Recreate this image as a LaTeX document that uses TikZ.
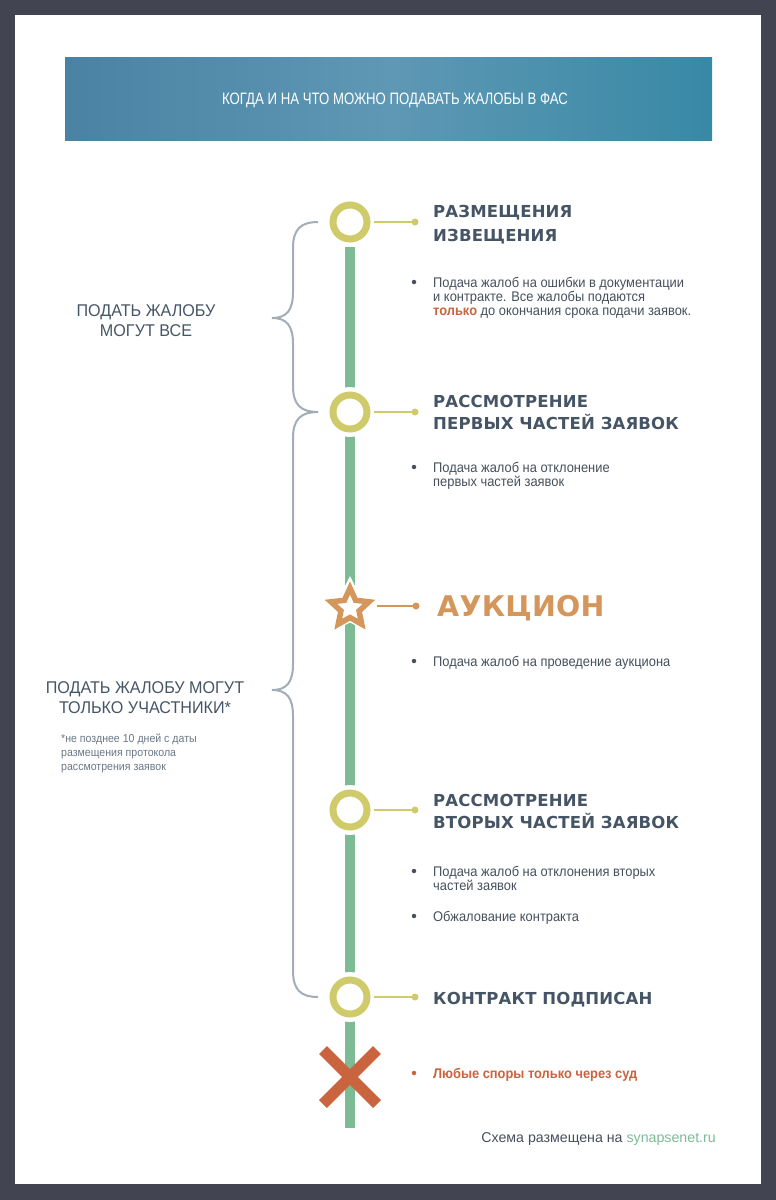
\documentclass[tikz,border=0pt]{standalone}
\usepackage{fontspec}
\setmainfont{Liberation Sans}
\newfontfamily\bodyfont[FakeStretch=0.92]{Liberation Sans}
\newfontfamily\leftfont[FakeStretch=0.95]{Liberation Sans}
\newfontfamily\hdrfont[FakeStretch=0.8]{Liberation Sans}
\newfontfamily\headfont[LetterSpace=1]{DejaVu Sans}
\usetikzlibrary{shapes.geometric,calc}
\definecolor{frame}{HTML}{424452}
\definecolor{ink}{HTML}{465566}
\definecolor{txt}{HTML}{46505C}
\definecolor{ring}{HTML}{CFCB6A}
\definecolor{track}{HTML}{7DBB95}
\definecolor{starc}{HTML}{D4965A}
\definecolor{cross}{HTML}{C9643E}
\definecolor{brace}{HTML}{A3ADB8}
\definecolor{note}{HTML}{6B7886}
\definecolor{barL}{HTML}{4A82A4}
\definecolor{barM}{HTML}{5E98B4}
\definecolor{barR}{HTML}{3889A6}
\tikzset{
  stop/.style={circle, draw=ring, line width=7pt, minimum size=34pt, inner sep=0pt, fill=white},
  halo/.style={circle, fill=white, minimum size=50pt, inner sep=0pt},
  link/.style={line width=2.6pt, draw=ring},
  linkdot/.style={circle, fill=ring, minimum size=7pt, inner sep=0pt},
  heading/.style={anchor=base west, inner sep=0pt, text=ink, font=\headfont\bfseries\fontsize{16.5}{22}\selectfont, align=left},
  bullettext/.style={anchor=base west, inner sep=0pt, text=txt, font=\bodyfont\fontsize{14}{14}\selectfont, align=left},
  bulletdot/.style={circle, fill=txt, minimum size=4.5pt, inner sep=0pt},
  lefttext/.style={anchor=base, inner sep=0pt, text=ink, font=\leftfont\fontsize{17}{19.5}\selectfont, align=center},
  bracepath/.style={draw=brace, line width=2pt},
}
\begin{document}
\begin{tikzpicture}[x=1pt,y=-1pt]
\useasboundingbox (0,0) rectangle (776,1200);
\fill[frame] (0,0) rectangle (776,1200);
\fill[white] (15,15) rectangle (761,1184);
% header
\shade[left color=barL, right color=barR, middle color=barM] (65,57) rectangle (712,140);
\node[text=white, font=\hdrfont\fontsize{16.5}{18}\selectfont, inner sep=0pt] (title) at (395,100) {КОГДА И НА ЧТО МОЖНО ПОДАВАТЬ ЖАЛОБЫ В ФАС};

% track
\coordinate (trackTop) at (350,247);
\coordinate (trackBot) at (350,1128);
\draw[track, line width=10pt] (trackTop) -- (trackBot);

% stops
\node[halo] at (350,222) {};
\node[stop] (s1) at (350,222) {};
\node[halo] at (350,412) {};
\node[stop] (s2) at (350,412) {};
\node[halo] at (350,810) {};
\node[stop] (s4) at (350,810) {};
\node[halo] at (350,997) {};
\node[stop] (s5) at (350,997) {};

% star
\node[star, star points=5, star point ratio=2.0, minimum size=62pt, fill=white, inner sep=0pt] at (350,607) {};
\node[star, star points=5, star point ratio=2.1, minimum size=40pt, draw=starc, line width=5.5pt, fill=white, inner sep=0pt, line join=miter] (s3) at (350,608) {};

% cross
\coordinate (xc) at (350,1077);
\draw[cross, line width=11pt] ($(xc)+(-27,-27)$) -- ($(xc)+(27,27)$);
\draw[cross, line width=11pt] ($(xc)+(-27,27)$) -- ($(xc)+(27,-27)$);

% links
\node[linkdot] (d1) at (415,222) {};
\node[linkdot] (d2) at (415,412) {};
\node[linkdot, fill=starc] (d3) at (416,606) {};
\node[linkdot] (d4) at (415,810) {};
\node[linkdot] (d5) at (415,997) {};
\draw[link] (s1.east) ++(3,0) -- (d1.center);
\draw[link] (s2.east) ++(3,0) -- (d2.center);
\draw[link, draw=starc] (377,606) -- (d3.center);
\draw[link] (s4.east) ++(3,0) -- (d4.center);
\draw[link] (s5.east) ++(3,0) -- (d5.center);

% headings
\node[heading] (h1a) at (433,217) {РАЗМЕЩЕНИЯ};
\node[heading] (h1b) at (433,241) {ИЗВЕЩЕНИЯ};
\node[heading] (h2a) at (433,407) {РАССМОТРЕНИЕ};
\node[heading] (h2b) at (433,429) {ПЕРВЫХ ЧАСТЕЙ ЗАЯВОК};
\node[heading, text=starc, font=\headfont\bfseries\fontsize{28.5}{30}\selectfont] (h3) at (437,616) {АУКЦИОН};
\node[heading] (h4a) at (433,806) {РАССМОТРЕНИЕ};
\node[heading] (h4b) at (433,828) {ВТОРЫХ ЧАСТЕЙ ЗАЯВОК};
\node[heading] (h5) at (433,1004) {КОНТРАКТ ПОДПИСАН};

% bullets (multi-line nodes are placed by the baseline of their last line)
\node[bulletdot] (b1) at (414,282) {};
\node[bullettext] (t1) at (433,315) {Подача жалоб на ошибки в документации\\и контракте. Все жалобы подаются\\\textcolor{cross}{\bfseries только} до окончания срока подачи заявок.};
\node[bulletdot] (b2) at (414,467) {};
\node[bullettext] (t2) at (433,486) {Подача жалоб на отклонение\\первых частей заявок};
\node[bulletdot] (b3) at (414,661) {};
\node[bullettext] (t3) at (433,666) {Подача жалоб на проведение аукциона};
\node[bulletdot] (b4) at (414,871) {};
\node[bullettext] (t4) at (433,890) {Подача жалоб на отклонения вторых\\частей заявок};
\node[bulletdot] (b5) at (414,916) {};
\node[bullettext] (t5) at (433,921) {Обжалование контракта};
\node[bulletdot, fill=cross] (b6) at (414,1073) {};
\node[bullettext, text=cross, font=\bodyfont\bfseries\fontsize{14}{14}\selectfont] (t6) at (433,1078) {Любые споры только через суд};

% braces
\draw[bracepath] (318,222) .. controls (301,222) and (293,229) .. (293,248) -- (293,292) .. controls (293,310) and (287,318) .. (272,318)
  .. controls (287,318) and (293,326) .. (293,344) -- (293,386) .. controls (293,405) and (301,412) .. (318,412);
\draw[bracepath] (318,412) .. controls (301,412) and (293,419) .. (293,438) -- (293,664) .. controls (293,682) and (287,690) .. (272,690)
  .. controls (287,690) and (293,698) .. (293,716) -- (293,971) .. controls (293,990) and (301,997) .. (318,997);

% left texts
\node[lefttext] (l1) at (146,336) {ПОДАТЬ ЖАЛОБУ\\МОГУТ ВСЕ};
\node[lefttext] (l2) at (145,713) {ПОДАТЬ ЖАЛОБУ МОГУТ\\ТОЛЬКО УЧАСТНИКИ*};
\node[anchor=base west, inner sep=0pt, text=note, font=\bodyfont\fontsize{11.5}{14}\selectfont, align=left] (fn) at (61,770) {*не позднее 10 дней с даты\\размещения протокола\\рассмотрения заявок};

% footer
\node[anchor=base east, inner sep=0pt, text=txt, font=\fontsize{14.2}{16}\selectfont] (foot) at (716,1142) {Схема размещена на \textcolor{track}{synapsenet.ru}};
\end{tikzpicture}
\end{document}
